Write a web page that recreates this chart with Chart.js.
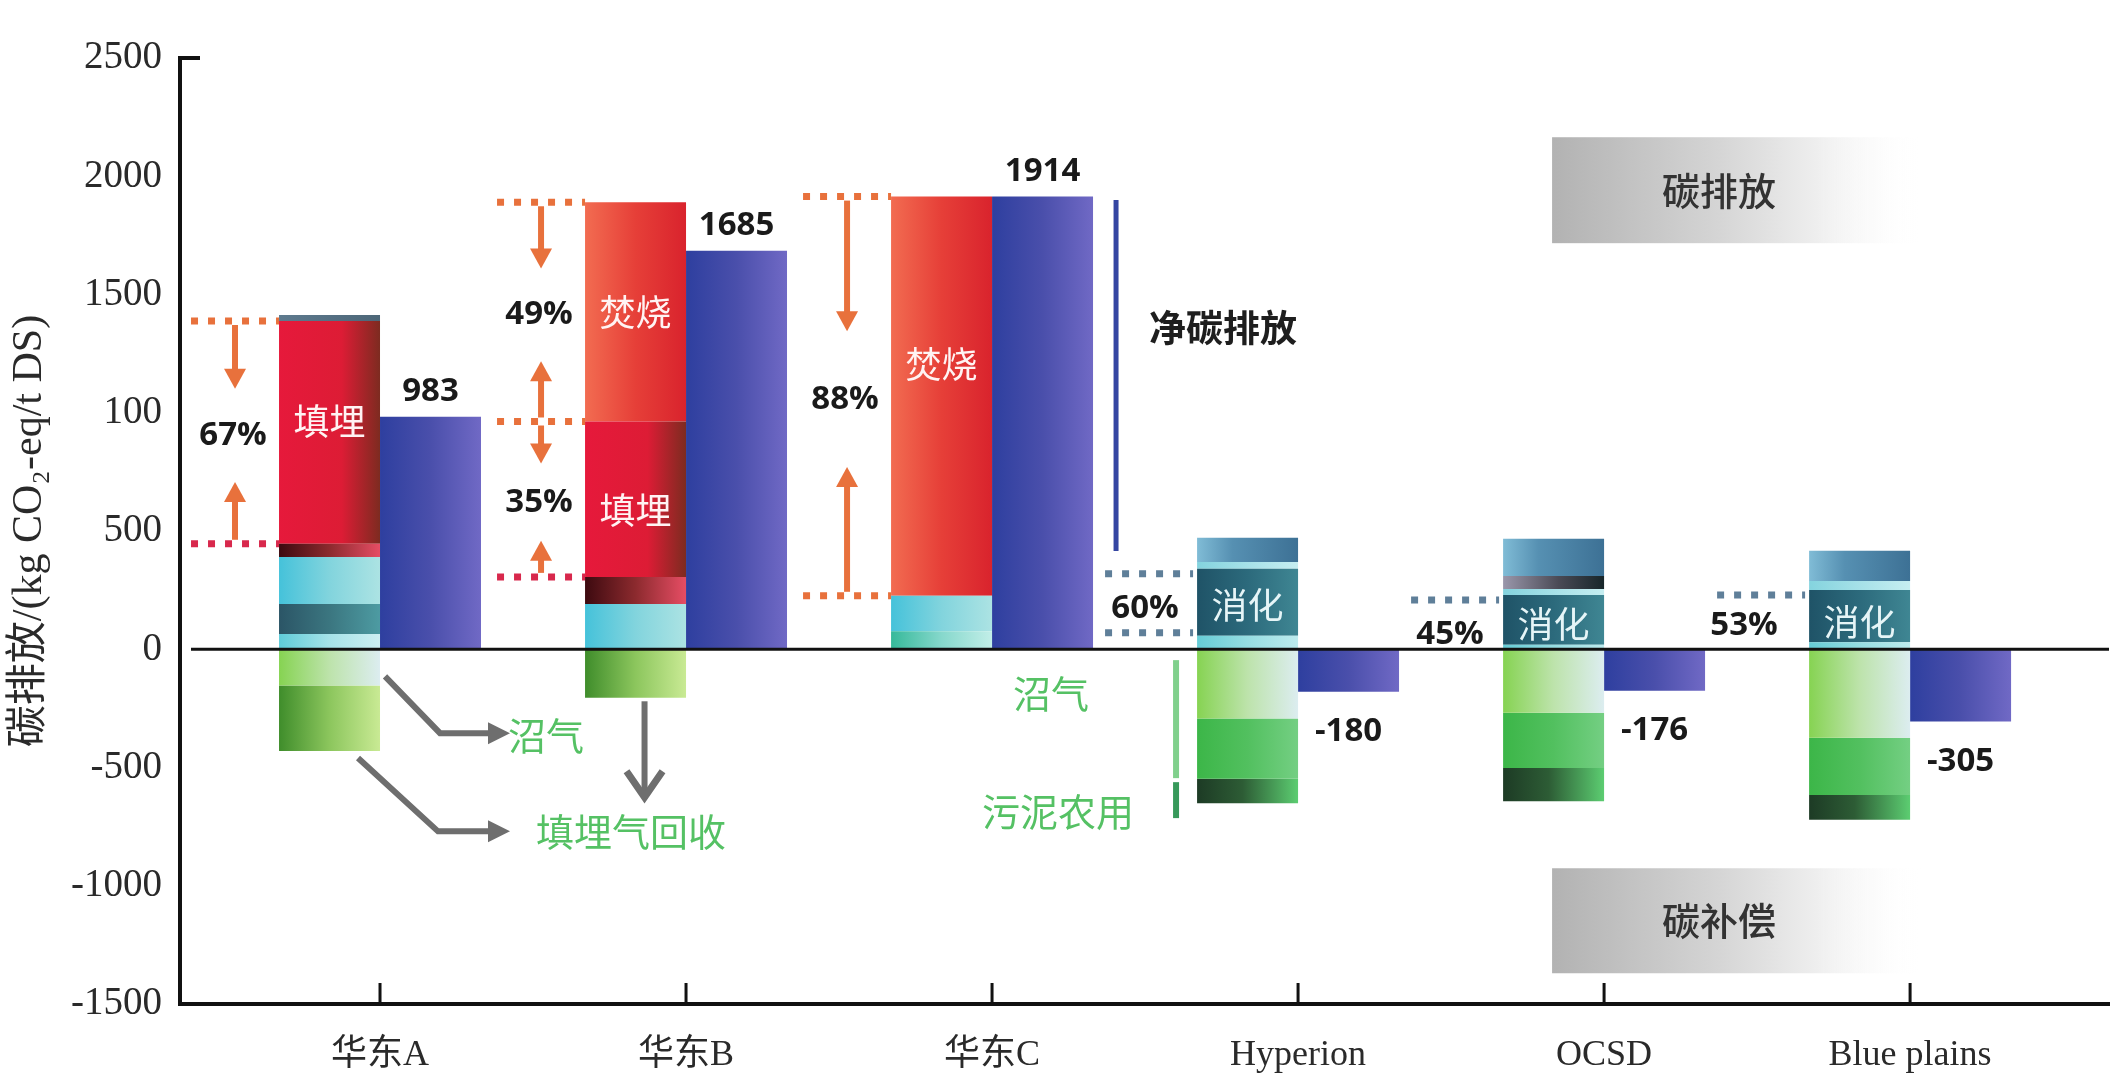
<!DOCTYPE html>
<html lang="zh-CN">
<head>
<meta charset="UTF-8">
<title>污泥处置路线碳排放对比</title>
<script src="https://cdn.jsdelivr.net/npm/chart.js@4"></script>
<style>
  html, body { margin: 0; padding: 0; background: #fff; }
  .wrap { width: 2119px; height: 1075px; }
</style>
</head>
<body>
<div class="wrap"><canvas id="chart" width="2119" height="1075"></canvas></div>
<script>
// plants compared
const plants = ['华东A', '华东B', '华东C', 'Hyperion', 'OCSD', 'Blue plains'];

// y axis ticks (the 1000 tick is printed as "100")
const yTicks = [-1500, -1000, -500, 0, 500, 1000, 1500, 2000, 2500];
const yTickText = ['-1500', '-1000', '-500', '0', '500', '100', '1500', '2000', '2500'];

// gross emission components, kg CO2-eq/t DS, stacked from the zero line up
const baseLayer    = [64, 0, 76, 57, 19, 30];
const digestion    = [127, 0, 0, 283, 210, 221];
const cyanLayer    = [199, 191, 150, 29, 26, 38];
const darkLayer    = [56, 115, 0, 0, 55, 0];
const landfill     = [942, 657, 0, 0, 0, 0];
const incineration = [0, 927, 1688, 0, 0, 0];
const topLayer     = [25, 0, 0, 102, 157, 127];

// offsets, stacked from the zero line down
const biogas       = [-153, 0, 0, -293, -268, -374];
const gasRecovery  = [-277, -205, 0, -255, -234, -242];
const landApply    = [0, 0, 0, -103, -141, -105];

// net emission per plant
const netEmission  = [983, 1685, 1914, -180, -176, -305];

const CAT_PCT = 0.66;
const SERIF = '"Liberation Serif", "Noto Sans CJK SC", serif';
const CJK = '"Noto Sans CJK SC", sans-serif';
const BOLD = '"Open Sans", "DejaVu Sans", sans-serif';
const ORANGE = '#e8713c';
const CRIMSON = '#d8284c';

const s3 = (a, b, c, m = 0.5) => [[0, a], [m, b], [1, c]];

const layers = [
  { key: 'base', data: baseLayer, fill: i => i === 2 ? s3('#36b99a', '#86d8cc', '#c2eee8')
      : i < 2 ? s3('#5fccd9', '#a6e2e8', '#cdeff2') : s3('#66ccd6', '#96dde2', '#bdebee') },
  { key: 'digestion', data: digestion, fill: i => i === 0 ? s3('#2b5566', '#3b7680', '#4d9ba2')
      : s3('#1f5367', '#2c6a7c', '#3f8693') },
  { key: 'cyan', data: cyanLayer, fill: i => i < 3 ? s3('#45c2da', '#82d4dd', '#ace3e3')
      : s3('#84d3de', '#a6e1e8', '#c6eef1') },
  { key: 'dark', data: darkLayer, fill: i => i === 4 ? s3('#9a97ab', '#4a4a55', '#17262a', 0.55)
      : s3('#3d0a10', '#8c2a2e', '#e64d64') },
  { key: 'landfill', data: landfill, fill: () => s3('#e6193b', '#dd1c35', '#7d2b20', 0.62) },
  { key: 'incineration', data: incineration, fill: () => s3('#f26c51', '#e63f38', '#d9232d') },
  { key: 'top', data: topLayer, fill: i => i === 0 ? s3('#5e7a8e', '#557083', '#4d6778')
      : s3('#80bcd6', '#5690b2', '#3d7195', 0.35) },
  { key: 'biogas', data: biogas, fill: () => s3('#86d352', '#bde3ab', '#dcedf0') },
  { key: 'recovery', data: gasRecovery, fill: i => i < 2 ? s3('#3f8d2b', '#8cc65d', '#c9ea94')
      : s3('#3cb648', '#52c05f', '#74cf83') },
  { key: 'landApply', data: landApply, fill: () => s3('#1d3b25', '#2d5c35', '#5ccd71', 0.45) },
  { key: 'net', data: netEmission, fill: () => s3('#2e3f9f', '#4a4fab', '#7069c5') }
];

const dsIndex = {};
const datasets = layers.map((l, k) => {
  dsIndex[l.key] = k;
  return {
    label: l.key,
    stack: l.key === 'net' ? 'net' : 'gross',
    data: plants.map((_, i) => ({ x: i, y: l.data[i] === 0 ? null : l.data[i] })),
    backgroundColor: l.fill(0)[0][1]
  };
});

const positiveKeys = ['base', 'digestion', 'cyan', 'dark', 'landfill', 'incineration', 'top'];
const grossPositive = plants.map((_, i) =>
  positiveKeys.reduce((s, k) => s + layers[dsIndex[k]].data[i], 0));
const pct = (key, i) => Math.round(layers[dsIndex[key]].data[i] / grossPositive[i] * 100) + '%';

// swap each bar's flat fill for a left-to-right gradient once the bars are laid out
const shading = {
  id: 'shading',
  beforeDatasetsDraw(chart) {
    const ctx = chart.ctx;
    layers.forEach((l, k) => {
      chart.getDatasetMeta(k).data.forEach((el, i) => {
        if (!el || !isFinite(el.x) || !isFinite(el.width)) return;
        const g = ctx.createLinearGradient(el.x - el.width / 2, 0, el.x + el.width / 2, 0);
        l.fill(i).forEach(([p, col]) => g.addColorStop(p, col));
        el.options = Object.assign({}, el.options, { backgroundColor: g });
      });
    });
  }
};

function dotted(ctx, x0, x1, y, color) {
  ctx.save();
  ctx.strokeStyle = color;
  ctx.lineWidth = 7;
  ctx.setLineDash([7, 10]);
  ctx.beginPath(); ctx.moveTo(x0, y); ctx.lineTo(x1, y); ctx.stroke();
  ctx.restore();
}

function shaftArrow(ctx, x, y0, y1, color) {
  const dir = Math.sign(y1 - y0);
  ctx.save();
  ctx.strokeStyle = color; ctx.fillStyle = color; ctx.lineWidth = 6;
  ctx.beginPath(); ctx.moveTo(x, y0); ctx.lineTo(x, y1 - dir * 18); ctx.stroke();
  ctx.beginPath();
  ctx.moveTo(x - 11, y1 - dir * 20); ctx.lineTo(x + 11, y1 - dir * 20); ctx.lineTo(x, y1);
  ctx.closePath(); ctx.fill();
  ctx.restore();
}

function grayArrow(ctx, pts, open) {
  const color = '#6e6e6e';
  ctx.save();
  ctx.strokeStyle = color; ctx.fillStyle = color; ctx.lineWidth = 6; ctx.lineJoin = 'miter';
  const n = pts.length, [tx, ty] = pts[n - 1], [px, py] = pts[n - 2];
  const a = Math.atan2(ty - py, tx - px);
  ctx.beginPath();
  ctx.moveTo(pts[0][0], pts[0][1]);
  for (let k = 1; k < n - 1; k++) ctx.lineTo(pts[k][0], pts[k][1]);
  const back = open ? 3 : 18;
  ctx.lineTo(tx - back * Math.cos(a), ty - back * Math.sin(a));
  ctx.stroke();
  const hx = (d, s) => tx - d * Math.cos(a) + s * Math.sin(a);
  const hy = (d, s) => ty - d * Math.sin(a) - s * Math.cos(a);
  ctx.beginPath();
  if (open) {
    ctx.lineWidth = 7;
    ctx.moveTo(hx(26, 18), hy(26, 18)); ctx.lineTo(tx, ty); ctx.lineTo(hx(26, -18), hy(26, -18));
    ctx.stroke();
  } else {
    ctx.moveTo(tx, ty); ctx.lineTo(hx(22, 11), hy(22, 11)); ctx.lineTo(hx(22, -11), hy(22, -11));
    ctx.closePath(); ctx.fill();
  }
  ctx.restore();
}

function text(ctx, str, x, y, font, color, align = 'center') {
  ctx.save();
  ctx.font = font; ctx.fillStyle = color;
  ctx.textAlign = align; ctx.textBaseline = 'middle';
  ctx.fillText(str, x, y);
  ctx.restore();
}

function shadeBox(ctx, x0, y0, x1, y1, label) {
  const g = ctx.createLinearGradient(x0, 0, x1, 0);
  g.addColorStop(0, '#b2b2b2');
  g.addColorStop(0.45, '#d5d5d5');
  g.addColorStop(0.72, '#efefef');
  g.addColorStop(1, 'rgba(255,255,255,0)');
  ctx.fillStyle = g;
  ctx.fillRect(x0, y0, x1 - x0, y1 - y0);
  text(ctx, label, x0 + (x1 - x0) * 0.45, (y0 + y1) / 2, '500 38px ' + CJK, '#333');
}

const annotate = {
  id: 'annotate',
  afterDatasetsDraw(chart) {
    const { ctx, chartArea: ca } = chart;
    const sx = chart.scales.x, sy = chart.scales.y;
    const X = v => sx.getPixelForValue(v);
    const Y = v => sy.getPixelForValue(v);
    const barW = (X(1) - X(0)) * CAT_PCT / 2;
    const left = i => X(i) - barW;
    const grossMid = i => X(i) - barW / 2;
    const seg = (key, i) => {
      const el = chart.getDatasetMeta(dsIndex[key]).data[i];
      return { top: Math.min(el.y, el.base), bottom: Math.max(el.y, el.base) };
    };

    // zero line on top of the bars, axis cap and category ticks
    ctx.save();
    ctx.strokeStyle = '#111';
    ctx.lineWidth = 3;
    ctx.beginPath(); ctx.moveTo(ca.left + 11, Y(0)); ctx.lineTo(ca.right, Y(0)); ctx.stroke();
    ctx.lineWidth = 4;
    ctx.beginPath(); ctx.moveTo(ca.left - 2, Y(2500)); ctx.lineTo(ca.left + 20, Y(2500)); ctx.stroke();
    ctx.lineWidth = 3;
    plants.forEach((_, i) => {
      ctx.beginPath(); ctx.moveTo(X(i), ca.bottom); ctx.lineTo(X(i), ca.bottom - 21); ctx.stroke();
    });
    ctx.restore();

    // share of landfill / incineration in gross emission
    const shareMarks = [
      { i: 0, key: 'landfill', top: ORANGE, bottom: CRIMSON },
      { i: 1, key: 'incineration', top: ORANGE, bottom: ORANGE },
      { i: 1, key: 'landfill', top: null, bottom: CRIMSON },
      { i: 2, key: 'incineration', top: ORANGE, bottom: ORANGE }
    ];
    shareMarks.forEach(m => {
      const s = seg(m.key, m.i), l = left(m.i), ax = l - 44;
      if (m.top) dotted(ctx, l - 88, l, s.top, m.top);
      dotted(ctx, l - 88, l, s.bottom, m.bottom);
      const mid = (s.top + s.bottom) / 2 + 3;
      const gap = 0.12 * (s.bottom - s.top) + 20;
      shaftArrow(ctx, ax, s.top + 4, mid - gap, ORANGE);
      shaftArrow(ctx, ax, s.bottom - 4, mid + gap, ORANGE);
      text(ctx, pct(m.key, m.i), ax - 2, mid, 'bold 33px ' + BOLD, '#1a1a1a');
    });

    // digestion share
    const digestMarks = [
      { i: 3, both: true, dx: -52, dy: 40 },
      { i: 4, both: false, dx: -53, dy: 40 },
      { i: 5, both: false, dx: -65, dy: 36 }
    ];
    digestMarks.forEach(m => {
      const s = seg('digestion', m.i), l = left(m.i);
      dotted(ctx, l - 92, l - 4, s.top + 5, '#5f7f99');
      if (m.both) dotted(ctx, l - 92, l - 4, s.bottom - 3, '#5f7f99');
      text(ctx, pct('digestion', m.i), l + m.dx, s.top + m.dy, 'bold 33px ' + BOLD, '#1a1a1a');
    });

    // labels inside the gross bars
    const tags = [
      { i: 0, key: 'landfill', str: '填埋', f: 0.45 },
      { i: 1, key: 'incineration', str: '焚烧', f: 0.5 },
      { i: 1, key: 'landfill', str: '填埋', f: 0.57 },
      { i: 2, key: 'incineration', str: '焚烧', f: 0.42 },
      { i: 3, key: 'digestion', str: '消化', f: 0.54 },
      { i: 4, key: 'digestion', str: '消化', f: 0.58 },
      { i: 5, key: 'digestion', str: '消化', f: 0.62 }
    ];
    tags.forEach(t => {
      const s = seg(t.key, t.i);
      text(ctx, t.str, grossMid(t.i), s.top + (s.bottom - s.top) * t.f, '36px ' + CJK,
        t.key === 'digestion' ? '#e6f5f7' : '#fff3f3');
    });

    // net values
    chart.getDatasetMeta(dsIndex.net).data.forEach((el, i) => {
      const v = netEmission[i];
      text(ctx, String(v), el.x, v > 0 ? el.y - 25 : el.y + 40, 'bold 33px ' + BOLD, '#1a1a1a');
    });

    // offsets on the landfill side
    const x0 = X(0);
    grayArrow(ctx, [[x0 + 5, Y(-115)], [x0 + 60, Y(-355)], [x0 + 130, Y(-355)]], false);
    grayArrow(ctx, [[x0 - 22, Y(-460)], [x0 + 58, Y(-770)], [x0 + 130, Y(-770)]], false);
    grayArrow(ctx, [[grossMid(1) + 9, Y(-220)], [grossMid(1) + 9, Y(-626)]], true);
    const GREEN = '#55c164';
    text(ctx, '沼气', x0 + 128, Y(-364), '38px ' + CJK, GREEN, 'left');
    text(ctx, '填埋气回收', x0 + 156, Y(-770), '38px ' + CJK, GREEN, 'left');

    // offsets on the digestion side
    const x3 = X(3);
    text(ctx, '沼气', x3 - 247, Y(-186), '38px ' + CJK, GREEN);
    text(ctx, '污泥农用', x3 - 240, Y(-685), '38px ' + CJK, GREEN);
    ctx.save();
    ctx.lineWidth = 6;
    ctx.strokeStyle = '#80d08c';
    ctx.beginPath(); ctx.moveTo(x3 - 122, Y(-46)); ctx.lineTo(x3 - 122, Y(-545)); ctx.stroke();
    ctx.strokeStyle = '#37995a';
    ctx.beginPath(); ctx.moveTo(x3 - 122, Y(-562)); ctx.lineTo(x3 - 122, Y(-714)); ctx.stroke();

    // net emission marker
    const x2 = X(2);
    ctx.strokeStyle = '#3546a2';
    ctx.lineWidth = 5;
    ctx.beginPath(); ctx.moveTo(x2 + 124, Y(1900)); ctx.lineTo(x2 + 124, Y(415)); ctx.stroke();
    ctx.restore();
    text(ctx, '净碳排放', x2 + 157, Y(1357), '600 37px ' + CJK, '#1e1e1e', 'left');

    // emission / offset captions
    shadeBox(ctx, X(4) - 52, Y(2165), X(5) + 13, Y(1717), '碳排放');
    shadeBox(ctx, X(4) - 52, Y(-926), X(5) + 13, Y(-1370), '碳补偿');
  }
};

new Chart(document.getElementById('chart'), {
  type: 'bar',
  data: { datasets },
  options: {
    responsive: false,
    animation: false,
    devicePixelRatio: 1,
    layout: { padding: { top: 58, right: 10, left: 0, bottom: 0 } },
    plugins: { legend: { display: false }, tooltip: { enabled: false } },
    datasets: { bar: { categoryPercentage: CAT_PCT, barPercentage: 1, borderWidth: 0 } },
    scales: {
      x: {
        type: 'linear',
        offset: false,
        min: -0.6536,
        max: 5.65,
        afterBuildTicks: s => { s.ticks = plants.map((_, i) => ({ value: i })); },
        afterFit: s => { s.height = 71; },
        grid: { display: false, drawTicks: false },
        border: { display: true, color: '#111', width: 4 },
        ticks: {
          autoSkip: false,
          maxRotation: 0,
          padding: 30,
          color: '#2a2a2a',
          font: { family: SERIF, size: 36 },
          callback: v => plants[v]
        }
      },
      y: {
        stacked: true,
        min: -1500,
        max: 2500,
        afterBuildTicks: s => { s.ticks = yTicks.map(v => ({ value: v })); },
        afterFit: s => { s.width = 180; },
        grid: { display: false, drawTicks: false },
        border: { display: true, color: '#111', width: 4 },
        ticks: {
          padding: 18,
          color: '#2a2a2a',
          font: { family: SERIF, size: 39 },
          callback: v => yTickText[yTicks.indexOf(v)]
        },
        title: {
          display: true,
          text: '碳排放/(kg CO₂-eq/t DS)',
          color: '#2a2a2a',
          font: { family: SERIF, size: 42 },
          padding: { top: 5, bottom: 0 }
        }
      }
    }
  },
  plugins: [shading, annotate]
});
</script>
</body>
</html>
